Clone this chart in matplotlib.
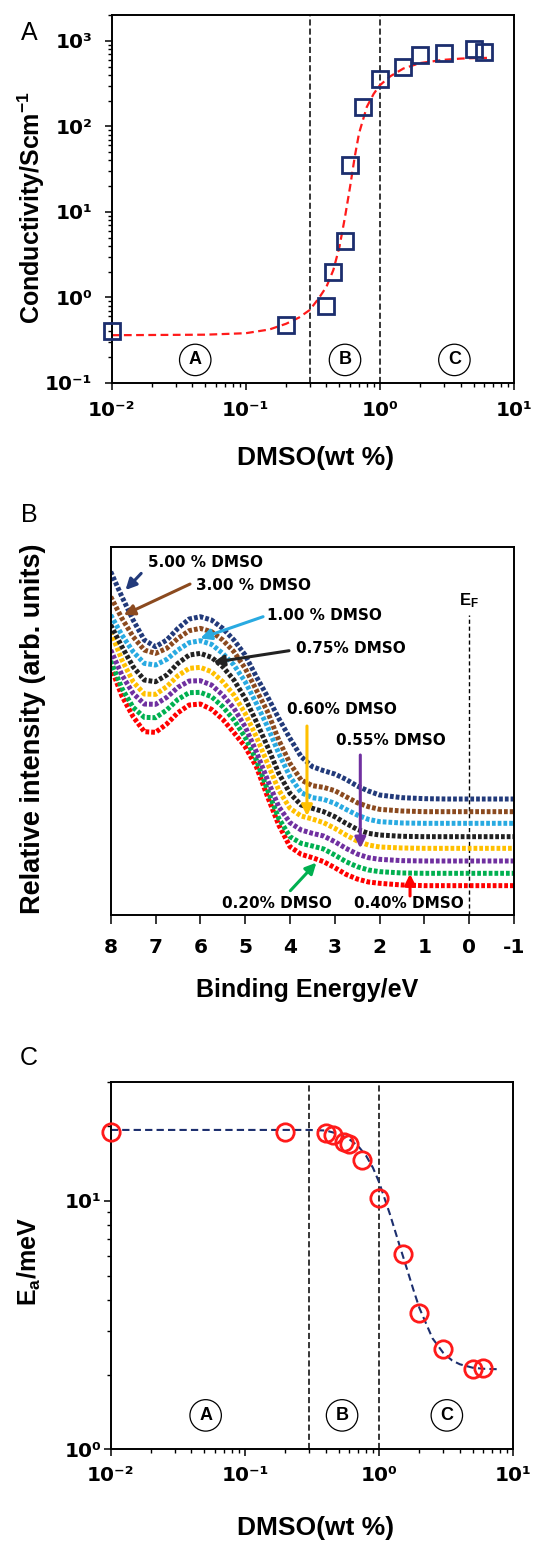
import matplotlib.pyplot as plt
from matplotlib.ticker import NullFormatter, LogLocator

plt.rcParams['font.family'] = ['Liberation Sans', 'DejaVu Sans']
plt.rcParams['mathtext.fontset'] = 'custom'
plt.rcParams['mathtext.rm'] = 'Liberation Sans:bold'
plt.rcParams['mathtext.it'] = 'Liberation Sans:bold'
plt.rcParams['mathtext.bf'] = 'Liberation Sans:bold'

# ---------------- data ----------------
# DMSO content (wt %) shared by panels A and C
dmso = [0.01, 0.2, 0.4, 0.45, 0.55, 0.6, 0.75, 1.0, 1.5, 2.0, 3.0, 5.0, 6.0]

# Panel A: conductivity (S/cm) and the red dashed fit
conductivity = [0.40, 0.47, 0.79, 2.0, 4.5, 35, 170, 355, 500, 690, 730, 800, 740]
cond_fit_x = [0.01, 0.05, 0.1, 0.15, 0.2, 0.25, 0.3, 0.35, 0.4, 0.45, 0.5, 0.55,
              0.6, 0.65, 0.7, 0.8, 0.9, 1.0, 1.2, 1.5, 2.0, 3.0, 4.0, 5.0, 6.3]
cond_fit_y = [0.36, 0.365, 0.38, 0.42, 0.49, 0.58, 0.71, 0.97, 1.33, 2.08, 3.9, 8.7,
              19.6, 44, 83, 169, 240, 302, 386, 475, 550, 600, 620, 628, 632]

# Panel C: activation energy (meV) and the blue dashed fit
ea = [18.9, 18.9, 18.7, 18.4, 17.3, 17.0, 14.6, 10.3, 6.1, 3.55, 2.54, 2.10, 2.12]
ea_fit_x = [0.01, 0.1, 0.2, 0.3, 0.4, 0.5, 0.6, 0.7, 0.8, 0.9, 1.0, 1.2, 1.4, 1.6,
            1.8, 2.0, 2.5, 3.0, 3.5, 4.0, 5.0, 6.0, 8.0]
ea_fit_y = [19.3, 19.3, 19.3, 19.3, 19.2, 18.6, 17.7, 16.6, 15.2, 13.6, 11.9, 8.9,
            6.8, 5.4, 4.4, 3.7, 2.8, 2.45, 2.28, 2.2, 2.13, 2.11, 2.1]

# region boundaries and circled region letters
boundaries = [0.3, 1.0]
regions = ['A', 'B', 'C']
regions_x_a = [0.042, 0.55, 3.6]
regions_x_c = [0.051, 0.53, 3.2]

log_ticks_x = [0.01, 0.1, 1, 10]
log_labels_x = ['10\u207b\u00b2', '10\u207b\u00b9', '10\u2070', '10\u00b9']
ticks_a_y = [0.1, 1, 10, 100, 1000]
labels_a_y = ['10\u207b\u00b9', '10\u2070', '10\u00b9', '10\u00b2', '10\u00b3']
ticks_c_y = [1, 10]
labels_c_y = ['10\u2070', '10\u00b9']

# Panel B: UPS spectra (arb. units) vs binding energy (eV)
energy = [8, 7.75, 7.5, 7.25, 7, 6.75, 6.5, 6.25, 6, 5.75, 5.5, 5.25, 5, 4.75, 4.5,
          4.25, 4, 3.75, 3.5, 3.25, 3, 2.75, 2.5, 2.25, 2, 1.5, 1, 0.5, 0, -1]
i_500 = [103.0, 95.5, 88.5, 82.5, 80.5, 82.5, 86.0, 88.8, 89.5, 88.5, 86.0, 82.5, 78.0,
         71.5, 65.5, 59.0, 53.0, 47.5, 44.5, 43.3, 42.3, 40.7, 38.7, 37.2, 36.0, 35.2,
         34.9, 34.8, 34.8, 34.8]
i_300 = [95.5, 89.0, 83.5, 79.5, 78.5, 80.0, 83.0, 85.3, 86.0, 85.0, 82.5, 79.0, 74.0,
         67.5, 61.0, 52.5, 45.5, 40.5, 38.8, 38.3, 37.3, 35.5, 33.7, 32.5, 31.7, 31.2,
         31.0, 31.0, 31.0, 31.0]
i_100 = [90.0, 84.0, 79.0, 75.5, 75.0, 76.7, 79.5, 81.7, 82.3, 81.2, 78.5, 75.0, 70.0,
         63.5, 56.5, 48.5, 41.5, 36.7, 35.2, 34.7, 33.5, 31.7, 30.0, 28.7, 28.0, 27.6,
         27.5, 27.5, 27.5, 27.5]
i_075 = [87.0, 80.5, 74.5, 70.5, 70.0, 72.0, 75.5, 78.0, 78.5, 77.3, 74.5, 70.5, 65.0,
         58.0, 50.5, 42.5, 36.5, 33.0, 32.0, 31.0, 29.5, 27.5, 25.7, 24.5, 24.0, 23.6,
         23.5, 23.5, 23.5, 23.5]
i_060 = [85.0, 76.5, 70.0, 66.3, 66.2, 68.5, 71.8, 74.0, 74.3, 73.0, 70.0, 66.0, 60.5,
         53.5, 45.5, 37.5, 32.0, 29.7, 28.8, 27.7, 26.0, 24.0, 22.2, 21.0, 20.4, 20.1,
         20.0, 20.0, 20.0, 20.0]
i_055 = [79.5, 72.0, 66.5, 63.3, 63.2, 65.3, 68.3, 70.2, 70.3, 69.0, 66.0, 62.0, 56.5,
         49.0, 40.5, 32.5, 27.7, 25.5, 24.5, 23.7, 22.0, 20.0, 18.3, 17.2, 16.7, 16.3,
         16.2, 16.2, 16.2, 16.2]
i_040 = [76.2, 68.0, 62.3, 59.3, 59.2, 61.5, 64.7, 66.7, 66.8, 65.5, 62.5, 58.5, 53.3,
         46.5, 37.5, 29.0, 23.5, 21.5, 20.7, 19.8, 18.0, 16.0, 14.5, 13.5, 13.0, 12.6,
         12.5, 12.5, 12.5, 12.5]
i_020 = [74.5, 65.7, 59.5, 55.0, 54.8, 57.3, 60.7, 63.0, 63.3, 61.7, 58.7, 54.7, 50.5,
         44.5, 35.5, 27.0, 20.5, 18.2, 17.2, 16.0, 14.2, 12.2, 10.8, 9.9, 9.5, 9.0,
         8.8, 8.8, 8.8, 8.8]

# labels, text anchors and arrows for panel B
b_labels = ['5.00 % DMSO', '3.00 % DMSO', '1.00 % DMSO', '0.75% DMSO',
            '0.60% DMSO', '0.55% DMSO', '0.20% DMSO', '0.40% DMSO']
b_text_x = [7.17, 6.10, 4.52, 3.87, 4.06, 2.97, 5.52, 2.58]
b_text_y = [105.7, 99.0, 90.0, 80.0, 61.7, 52.5, 3.5, 3.5]
b_tail = [(7.32, 102.5), (6.23, 99.3), (4.60, 89.5), (4.02, 79.3),
          (3.62, 56.7), (2.43, 48.0), (3.99, 7.3), (1.32, 5.7)]
b_head = [(7.67, 97.5), (7.71, 90.0), (6.00, 83.0), (5.71, 75.8),
          (3.62, 29.7), (2.43, 20.0), (3.41, 15.7), (1.32, 12.3)]

navy = '#1c2e6e'
colors_b = ['#223a7a', '#8b4a1f', '#29aae1', '#222222',
            '#ffc000', '#7030a0', '#00b050', '#ff0000']
series_b = [i_500, i_300, i_100, i_075, i_060, i_055, i_040, i_020]

# ---------------- figure ----------------
fig = plt.figure(figsize=(5.39, 15.44), dpi=100)
ax_a = fig.add_axes([0.2072, 0.7521, 0.7462, 0.2381])
ax_b = fig.add_axes([0.2054, 0.4074, 0.7482, 0.2385])
ax_c = fig.add_axes([0.2054, 0.0613, 0.7468, 0.2377])

tick_font = dict(family='DejaVu Sans', fontweight='bold', fontsize=14.5)

for ax in (ax_a, ax_b, ax_c):
    for s in ax.spines.values():
        s.set_linewidth(1.4)
    ax.tick_params(which='major', direction='out', length=4.8, width=1.1)
    ax.tick_params(which='minor', direction='out', length=2.9, width=1.0)
    ax.tick_params(top=False, right=False)


def circled(ax, x, y, s):
    ax.text(x, y, s, fontsize=13, fontweight='bold', ha='center', va='center',
            bbox=dict(boxstyle='circle,pad=0.4', fc='white', ec='black', lw=0.9))


# Panel A
ax_a.set_xscale('log')
ax_a.set_yscale('log')
ax_a.set_xlim(0.01, 10)
ax_a.set_ylim(0.1, 2000)
for b in boundaries:
    ax_a.axvline(b, color='black', lw=1.1, ls=(0, (4, 2)))
ax_a.plot(cond_fit_x, cond_fit_y, color='#ff1a1a', lw=1.6, ls=(0, (3.5, 2)))
ax_a.plot(dmso, conductivity, 's', mfc='none', mec=navy, mew=2.0, ms=11,
          clip_on=False, zorder=4)
for r, x in zip(regions, regions_x_a):
    circled(ax_a, x, 0.185, r)
ax_a.set_xticks(log_ticks_x, log_labels_x, **tick_font)
ax_a.set_yticks(ticks_a_y, labels_a_y, **tick_font)
ax_a.yaxis.set_minor_locator(LogLocator(base=10, subs=range(2, 10), numticks=20))
ax_a.xaxis.set_minor_formatter(NullFormatter())
ax_a.yaxis.set_minor_formatter(NullFormatter())
ax_a.tick_params(axis='x', pad=8)
ax_a.tick_params(axis='y', which='major', pad=9)
ax_a.set_xlabel('DMSO(wt %)', fontsize=19, fontweight='bold')
ax_a.set_ylabel('Conductivity/Scm$^{-1}$', fontsize=18, fontweight='bold')
ax_a.xaxis.set_label_coords(0.508, -0.205)
ax_a.xaxis.label.set_va('center')
ax_a.yaxis.set_label_coords(-0.201, 0.476)
ax_a.yaxis.label.set_va('center')

# Panel B
ax_b.set_xlim(8, -1)
ax_b.set_ylim(0, 110.5)
ax_b.plot([0, 0], [0, 90], color='black', lw=1.0, ls=(0, (3, 2)))
for vals, c in zip(series_b[::-1], colors_b[::-1]):
    ax_b.plot(energy, vals, color=c, lw=3.6, ls=(0, (0.75, 0.4)))
for lab, tx, ty, tail, head, c in zip(b_labels, b_text_x, b_text_y, b_tail, b_head, colors_b):
    ax_b.annotate('', xy=head, xytext=tail,
                  arrowprops=dict(arrowstyle='-|>', color=c, lw=2.2,
                                  mutation_scale=16, shrinkA=0, shrinkB=0))
    ax_b.text(tx, ty, lab, family='DejaVu Sans', fontweight='bold', fontsize=11,
              ha='left', va='center')
ax_b.text(0.0, 94.3, 'E$_{F}$', fontsize=12, fontweight='bold', ha='center', va='center')
ax_b.set_xticks(range(8, -2, -1), [str(v) for v in range(8, -2, -1)], **tick_font)
ax_b.tick_params(axis='x', length=6.5, pad=10)
ax_b.tick_params(axis='y', left=False, labelleft=False)
ax_b.set_xlabel('Binding Energy/eV', fontsize=18, fontweight='bold')
ax_b.set_ylabel('Relative intensity (arb. units)', fontsize=19.5, fontweight='bold')
ax_b.xaxis.set_label_coords(0.488, -0.204)
ax_b.xaxis.label.set_va('center')
ax_b.yaxis.set_label_coords(-0.192, 0.505)
ax_b.yaxis.label.set_va('center')

# Panel C
ax_c.set_xscale('log')
ax_c.set_yscale('log')
ax_c.set_xlim(0.01, 10)
ax_c.set_ylim(1, 30)
for b in boundaries:
    ax_c.axvline(b, color='black', lw=1.1, ls=(0, (4, 2)))
ax_c.plot(ea_fit_x, ea_fit_y, color=navy, lw=1.5, ls=(0, (3.5, 2)))
ax_c.plot(dmso, ea, 'o', mfc='none', mec='#ff1a1a', mew=2.0, ms=12.5,
          clip_on=False, zorder=4)
for r, x in zip(regions, regions_x_c):
    circled(ax_c, x, 1.37, r)
ax_c.set_xticks(log_ticks_x, log_labels_x, **tick_font)
ax_c.set_yticks(ticks_c_y, labels_c_y, **tick_font)
ax_c.xaxis.set_minor_formatter(NullFormatter())
ax_c.yaxis.set_minor_formatter(NullFormatter())
ax_c.tick_params(axis='x', pad=7)
ax_c.tick_params(axis='y', which='major', pad=2)
ax_c.set_xlabel('DMSO(wt %)', fontsize=19, fontweight='bold')
ax_c.set_ylabel('E$_{a}$/meV', fontsize=18, fontweight='bold')
ax_c.xaxis.set_label_coords(0.51, -0.214)
ax_c.xaxis.label.set_va('center')
ax_c.yaxis.set_label_coords(-0.202, 0.511)
ax_c.yaxis.label.set_va('center')

# panel letters
fig.text(0.054, 0.9786, 'A', fontsize=18, ha='center', va='center')
fig.text(0.054, 0.6665, 'B', fontsize=18, ha='center', va='center')
fig.text(0.054, 0.3146, 'C', fontsize=18, ha='center', va='center')

fig.savefig('out.png', dpi=100)
